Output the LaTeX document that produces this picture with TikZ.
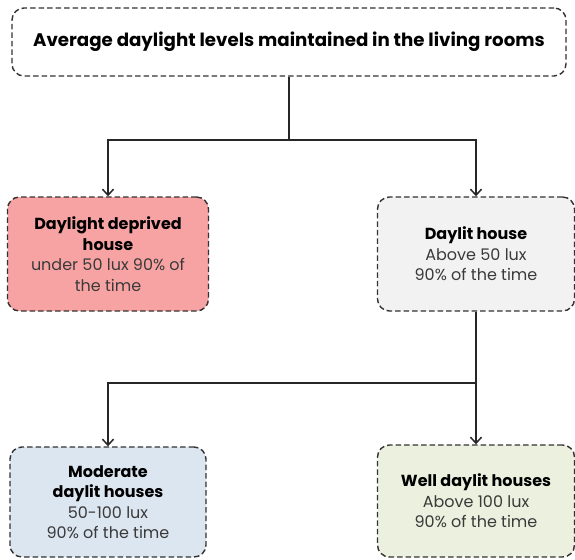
\documentclass[tikz,border=0pt]{standalone}
\usepackage{fontspec}
\setmainfont{Poppins}
\usetikzlibrary{arrows.meta}

\definecolor{deprived}{HTML}{F8A3A3}
\definecolor{daylit}{HTML}{F2F2F2}
\definecolor{moderate}{HTML}{DCE6F1}
\definecolor{welllit}{HTML}{EBF1DE}
\definecolor{bodytext}{HTML}{3A3A3A}

\tikzset{
  box/.style={draw=black!80, dash pattern=on 5.5pt off 3pt, line width=1.4pt,
    rounded corners=12pt, align=center, inner sep=0pt, text=bodytext,
    font=\fontsize{16}{20.5}\selectfont},
  link/.style={line width=1.5pt, black!85},
  arrowlink/.style={link, -{Straight Barb[length=6pt, width=11pt, line width=1.5pt]}},
}

\begin{document}
\begin{tikzpicture}[x=1pt,y=-1pt]
    \useasboundingbox (0,0) rectangle (575,559);

    % Top box
    \node[box, minimum width=554pt, minimum height=68pt, text=black,
      font=\bfseries\fontsize{18.2}{22}\selectfont] (levels) at (289,42)
      {Average daylight levels maintained in the living rooms};

    % First split
    \node[box, fill=deprived, minimum width=201pt, minimum height=114pt] (deprived) at (108,254)
      {\textcolor{black}{\bfseries Daylight deprived}\\\textcolor{black}{\bfseries house}\\under 50 lux 90\% of\\the time};
    \node[box, fill=daylit, minimum width=197pt, minimum height=114pt] (daylit) at (476,254)
      {\textcolor{black}{\bfseries Daylit house}\\Above 50 lux\\90\% of the time};
    \coordinate (fork1) at (289,140);
    \draw[link] (levels.south) -- (fork1);
    \draw[arrowlink] (fork1) -| (deprived.north);
    \draw[arrowlink] (fork1) -| (daylit.north);

    % Second split
    \node[box, fill=moderate, minimum width=196pt, minimum height=110pt] (moderate) at (108,502)
      {\textcolor{black}{\bfseries Moderate}\\\textcolor{black}{\bfseries daylit houses}\\50-100 lux\\90\% of the time};
    \node[box, fill=welllit, minimum width=197pt, minimum height=112pt] (welllit) at (476,501)
      {\textcolor{black}{\bfseries Well daylit houses}\\Above 100 lux\\90\% of the time};
    \coordinate (fork2) at (476,383);
    \draw[link] (daylit.south) -- (fork2);
    \draw[arrowlink] (fork2) -| (moderate.north);
    \draw[arrowlink] (fork2) -- (welllit.north);
\end{tikzpicture}
\end{document}
